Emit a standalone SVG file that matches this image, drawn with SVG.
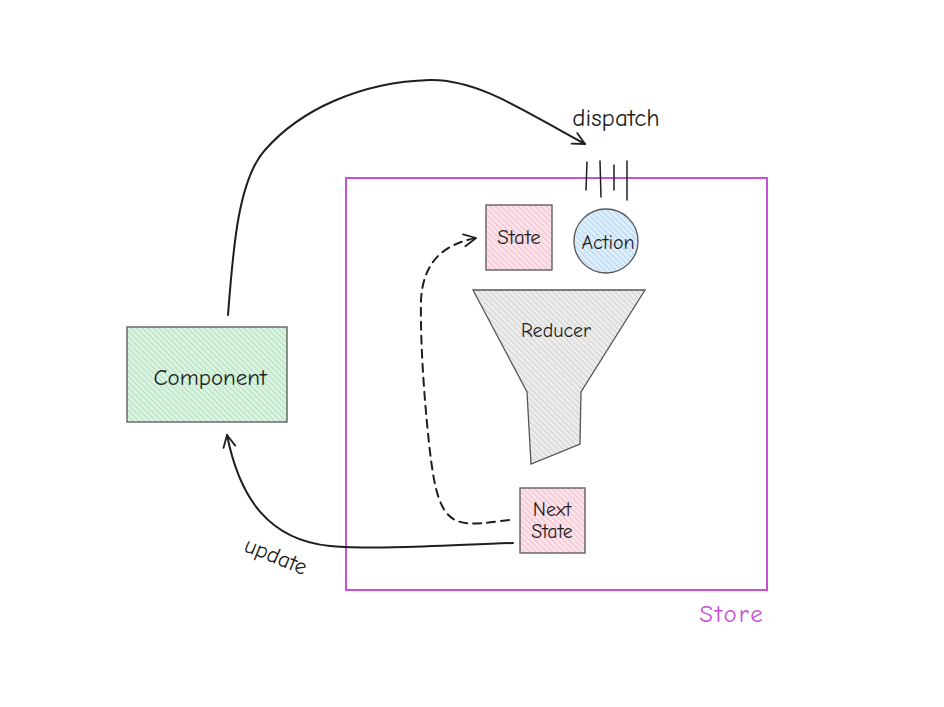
<svg xmlns="http://www.w3.org/2000/svg" width="944" height="707" viewBox="0 0 944 707">
<defs>
<pattern id="hPink" width="4" height="4" patternUnits="userSpaceOnUse" patternTransform="rotate(-45)">
<rect width="4" height="4" fill="#fbe3ea"/><line x1="0" y1="0" x2="0" y2="4" stroke="#f1a3bb" stroke-width="1.2"/>
</pattern>
<pattern id="hGreen" width="4" height="4" patternUnits="userSpaceOnUse" patternTransform="rotate(-45)">
<rect width="4" height="4" fill="#dcf3e2"/><line x1="0" y1="0" x2="0" y2="4" stroke="#8fd6a6" stroke-width="1.2"/>
</pattern>
<pattern id="hBlue" width="4" height="4" patternUnits="userSpaceOnUse" patternTransform="rotate(-45)">
<rect width="4" height="4" fill="#deeefa"/><line x1="0" y1="0" x2="0" y2="4" stroke="#95c8ee" stroke-width="1.2"/>
</pattern>
<pattern id="hGray" width="4" height="4" patternUnits="userSpaceOnUse" patternTransform="rotate(-45)">
<rect width="4" height="4" fill="#ececec"/><line x1="0" y1="0" x2="0" y2="4" stroke="#c2c2c2" stroke-width="1.2"/>
</pattern>
<marker id="arr" markerWidth="16" markerHeight="16" refX="14" refY="8" orient="auto" markerUnits="userSpaceOnUse">
<path d="M2,2 L14,8 L2,14" fill="none" stroke="#1e1e1e" stroke-width="1.8" stroke-linecap="round" stroke-linejoin="round"/>
</marker>
</defs>
<style>
.t{font-family:"Comic Neue","Liberation Sans",sans-serif;fill:#1e1e1e;font-size:20px;text-anchor:middle;dominant-baseline:central}
.edge{fill:none;stroke:#1e1e1e;stroke-width:2;stroke-linecap:round}
.box{stroke:#555;stroke-width:1.3}
</style>
<rect width="944" height="707" fill="#ffffff"/>

<g id="store">
<rect x="346" y="178" width="421" height="412" fill="none" stroke="#c94fd8" stroke-width="2"/>
<text class="t" x="732" y="613" style="fill:#c94fd8;font-size:25px;letter-spacing:2px">Store</text>
</g>

<g id="component">
<rect class="box" x="127" y="327" width="160" height="95" fill="url(#hGreen)"/>
<text class="t" x="210" y="377" style="font-size:23px">Component</text>
</g>

<g id="state">
<rect class="box" x="486" y="205" width="66" height="65" fill="url(#hPink)"/>
<text class="t" x="519" y="237" style="font-size:21px">State</text>
</g>

<g id="action">
<circle class="box" cx="606" cy="241" r="32" fill="url(#hBlue)"/>
<text class="t" x="608" y="242" style="font-size:20px">Action</text>
</g>

<g id="reducer">
<path class="box" d="M473,290 L645,290 L581,392 L580,444 L531,464 L527,392 Z" fill="url(#hGray)"/>
<text class="t" x="556" y="330">Reducer</text>
</g>

<g id="nextstate">
<rect class="box" x="520" y="488" width="65" height="65" fill="url(#hPink)"/>
<text class="t" x="552" y="509" style="font-size:20px">Next</text>
<text class="t" x="552" y="531" style="font-size:20px">State</text>
</g>

<g id="connectors">
<path class="edge" marker-end="url(#arr)" d="M228,315 C233,250 238,180 265,150 C300,110 360,82 430,80 C480,79 530,115 585,144"/>
<text class="t" x="616" y="117" style="font-size:25px">dispatch</text>
<g stroke="#1e1e1e" stroke-width="1.5" stroke-linecap="round">
<line x1="587" y1="162" x2="586" y2="190"/>
<line x1="600" y1="161" x2="601" y2="197"/>
<line x1="614" y1="165" x2="614" y2="190"/>
<line x1="627" y1="161" x2="627" y2="200"/>
</g>
<path class="edge" stroke-dasharray="8,6" marker-end="url(#arr)" d="M509,520 C490,522 470,527 455,520 C440,512 435,490 431,460 C426,420 420,350 421,300 C423,265 440,245 476,238"/>
<path class="edge" marker-end="url(#arr)" d="M513,543 C450,545 380,550 330,546 C270,540 240,500 227,435"/>
<text class="t" x="276" y="556" transform="rotate(22 276 556)" style="font-size:23px">update</text>
</g>
</svg>
